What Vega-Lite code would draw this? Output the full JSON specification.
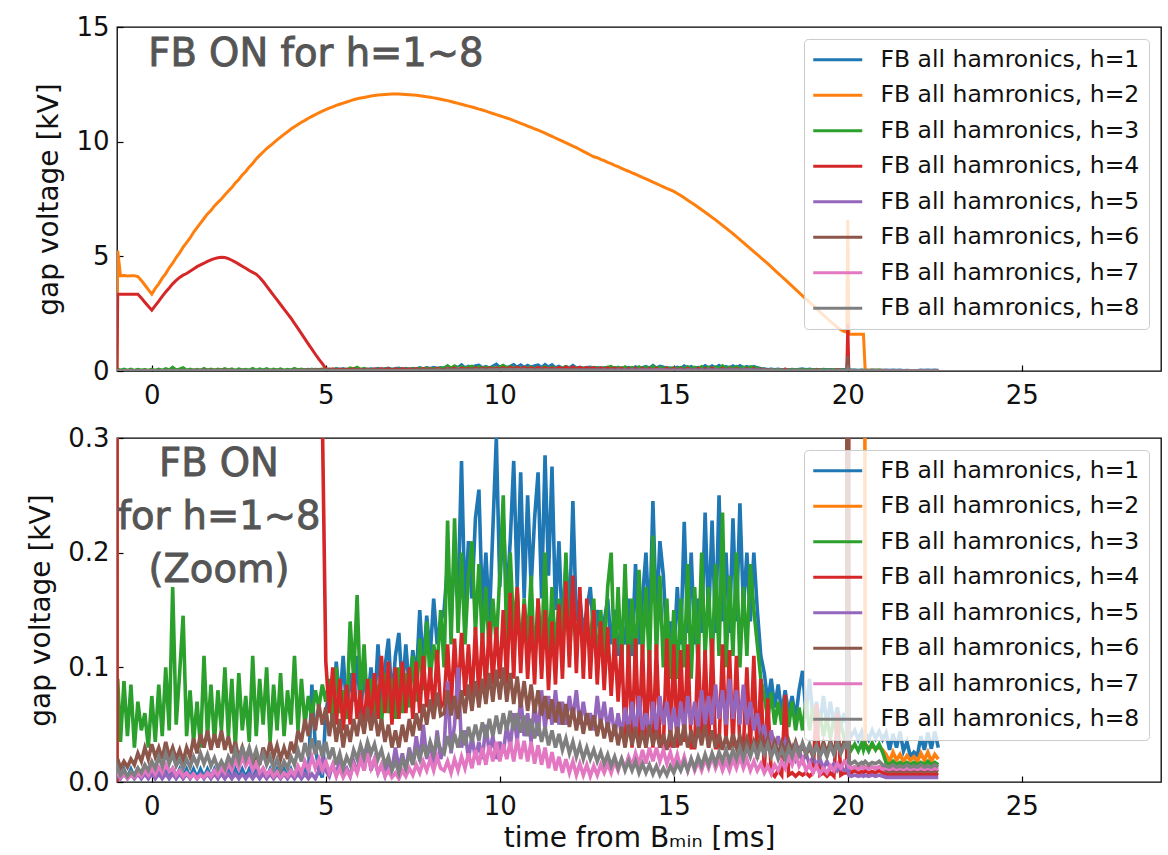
{
  "$schema": "https://vega.github.io/schema/vega-lite/v6.json",
  "autosize": {"type": "pad"},
  "padding": {"left": 27, "top": 13, "right": 5, "bottom": 5},
  "spacing": 15,
  "config": {
    "font": "DejaVu Sans",
    "view": {"stroke": "#000000", "strokeWidth": 1.3},
    "axis": {"domain": false, "grid": false, "tickSize": -6, "tickWidth": 1.2, "tickColor": "#000000", "labelFont": "DejaVu Sans", "labelFontSize": 26, "labelColor": "#111111", "titleFont": "DejaVu Sans", "titleFontSize": 28, "titleFontWeight": "normal", "titleColor": "#111111", "labelFlush": false, "labelOverlap": false},
    "axisX": {"labelPadding": 17, "titlePadding": 5},
    "axisY": {"labelPadding": 14, "titlePadding": 12}
  },
  "datasets": {
    "d": [
      {"t":-1.0,"h1":0.004,"h2":0,"h3":0.06,"h4":0,"h5":0.003,"h6":0.015,"h7":0.005,"h8":0.008},
      {"t":-0.98,"h1":0.011,"h2":5.25,"h3":0.09,"h4":3.35,"h5":0.007,"h6":0.02,"h7":0.008,"h8":0.012},
      {"t":-0.9,"h1":0.004,"h2":4.15,"h3":0.035,"h4":3.35,"h5":0.003,"h6":0.012,"h7":0.004,"h8":0.006},
      {"t":-0.8,"h1":0.011,"h2":4.16,"h3":0.088,"h4":3.35,"h5":0.007,"h6":0.018,"h7":0.007,"h8":0.01},
      {"t":-0.7,"h1":0.004,"h2":4.14,"h3":0.04,"h4":3.35,"h5":0.003,"h6":0.013,"h7":0.003,"h8":0.005},
      {"t":-0.6,"h1":0.011,"h2":4.15,"h3":0.085,"h4":3.35,"h5":0.007,"h6":0.02,"h7":0.006,"h8":0.009},
      {"t":-0.5,"h1":0.004,"h2":4.15,"h3":0.03,"h4":3.35,"h5":0.003,"h6":0.015,"h7":0.004,"h8":0.006},
      {"t":-0.4,"h1":0.011,"h2":4.12,"h3":0.07,"h4":3.35,"h5":0.007,"h6":0.025,"h7":0.008,"h8":0.012},
      {"t":-0.3,"h1":0.004,"h2":3.95,"h3":0.045,"h4":3.18,"h5":0.003,"h6":0.018,"h7":0.005,"h8":0.008},
      {"t":-0.2,"h1":0.011,"h2":3.75,"h3":0.06,"h4":3.0,"h5":0.007,"h6":0.03,"h7":0.01,"h8":0.015},
      {"t":-0.1,"h1":0.004,"h2":3.55,"h3":0.03,"h4":2.82,"h5":0.003,"h6":0.02,"h7":0.006,"h8":0.01},
      {"t":0.0,"h1":0.011,"h2":3.35,"h3":0.075,"h4":2.65,"h5":0.007,"h6":0.033,"h7":0.012,"h8":0.018},
      {"t":0.1,"h1":0.004,"h2":3.6,"h3":0.035,"h4":2.85,"h5":0.003,"h6":0.022,"h7":0.007,"h8":0.012},
      {"t":0.2,"h1":0.011,"h2":3.8,"h3":0.085,"h4":3.05,"h5":0.007,"h6":0.03,"h7":0.013,"h8":0.022},
      {"t":0.3,"h1":0.004,"h2":4.05,"h3":0.04,"h4":3.25,"h5":0.003,"h6":0.02,"h7":0.008,"h8":0.014},
      {"t":0.4,"h1":0.011,"h2":4.25,"h3":0.1,"h4":3.45,"h5":0.007,"h6":0.035,"h7":0.015,"h8":0.025},
      {"t":0.5,"h1":0.004,"h2":4.5,"h3":0.045,"h4":3.62,"h5":0.003,"h6":0.022,"h7":0.009,"h8":0.016},
      {"t":0.6,"h1":0.011,"h2":4.7,"h3":0.17,"h4":3.8,"h5":0.007,"h6":0.03,"h7":0.012,"h8":0.024},
      {"t":0.7,"h1":0.004,"h2":4.95,"h3":0.05,"h4":3.95,"h5":0.003,"h6":0.02,"h7":0.006,"h8":0.014},
      {"t":0.8,"h1":0.011,"h2":5.15,"h3":0.095,"h4":4.08,"h5":0.007,"h6":0.028,"h7":0.01,"h8":0.02},
      {"t":0.9,"h1":0.004,"h2":5.4,"h3":0.145,"h4":4.18,"h5":0.003,"h6":0.018,"h7":0.005,"h8":0.012},
      {"t":1.0,"h1":0.011,"h2":5.6,"h3":0.04,"h4":4.25,"h5":0.007,"h6":0.03,"h7":0.008,"h8":0.02},
      {"t":1.1,"h1":0.004,"h2":5.8,"h3":0.08,"h4":4.35,"h5":0.003,"h6":0.022,"h7":0.004,"h8":0.013},
      {"t":1.2,"h1":0.011,"h2":6.05,"h3":0.035,"h4":4.45,"h5":0.007,"h6":0.038,"h7":0.007,"h8":0.022},
      {"t":1.3,"h1":0.004,"h2":6.25,"h3":0.07,"h4":4.55,"h5":0.003,"h6":0.025,"h7":0.003,"h8":0.015},
      {"t":1.4,"h1":0.011,"h2":6.45,"h3":0.03,"h4":4.63,"h5":0.007,"h6":0.042,"h7":0.006,"h8":0.025},
      {"t":1.5,"h1":0.004,"h2":6.65,"h3":0.11,"h4":4.7,"h5":0.003,"h6":0.03,"h7":0.004,"h8":0.016},
      {"t":1.6,"h1":0.011,"h2":6.85,"h3":0.04,"h4":4.78,"h5":0.007,"h6":0.045,"h7":0.008,"h8":0.024},
      {"t":1.7,"h1":0.004,"h2":7.0,"h3":0.085,"h4":4.85,"h5":0.003,"h6":0.028,"h7":0.005,"h8":0.014},
      {"t":1.8,"h1":0.011,"h2":7.2,"h3":0.035,"h4":4.9,"h5":0.007,"h6":0.042,"h7":0.01,"h8":0.021},
      {"t":1.9,"h1":0.004,"h2":7.35,"h3":0.08,"h4":4.94,"h5":0.003,"h6":0.03,"h7":0.006,"h8":0.012},
      {"t":2.0,"h1":0.011,"h2":7.5,"h3":0.045,"h4":4.96,"h5":0.007,"h6":0.045,"h7":0.012,"h8":0.018},
      {"t":2.1,"h1":0.004,"h2":7.68,"h3":0.1,"h4":4.95,"h5":0.003,"h6":0.028,"h7":0.008,"h8":0.012},
      {"t":2.2,"h1":0.011,"h2":7.85,"h3":0.04,"h4":4.9,"h5":0.007,"h6":0.04,"h7":0.016,"h8":0.022},
      {"t":2.3,"h1":0.004,"h2":8.0,"h3":0.09,"h4":4.83,"h5":0.003,"h6":0.025,"h7":0.01,"h8":0.016},
      {"t":2.4,"h1":0.011,"h2":8.2,"h3":0.03,"h4":4.75,"h5":0.007,"h6":0.035,"h7":0.02,"h8":0.028},
      {"t":2.5,"h1":0.004,"h2":8.35,"h3":0.095,"h4":4.66,"h5":0.003,"h6":0.02,"h7":0.012,"h8":0.018},
      {"t":2.6,"h1":0.011,"h2":8.55,"h3":0.045,"h4":4.57,"h5":0.007,"h6":0.03,"h7":0.022,"h8":0.031},
      {"t":2.7,"h1":0.004,"h2":8.7,"h3":0.075,"h4":4.48,"h5":0.003,"h6":0.018,"h7":0.014,"h8":0.02},
      {"t":2.8,"h1":0.011,"h2":8.9,"h3":0.035,"h4":4.38,"h5":0.007,"h6":0.028,"h7":0.02,"h8":0.03},
      {"t":2.9,"h1":0.004,"h2":9.05,"h3":0.11,"h4":4.3,"h5":0.003,"h6":0.016,"h7":0.01,"h8":0.019},
      {"t":3.0,"h1":0.011,"h2":9.25,"h3":0.04,"h4":4.22,"h5":0.007,"h6":0.025,"h7":0.016,"h8":0.028},
      {"t":3.1,"h1":0.004,"h2":9.4,"h3":0.09,"h4":4.08,"h5":0.003,"h6":0.015,"h7":0.008,"h8":0.017},
      {"t":3.2,"h1":0.011,"h2":9.55,"h3":0.05,"h4":3.9,"h5":0.007,"h6":0.03,"h7":0.012,"h8":0.025},
      {"t":3.3,"h1":0.004,"h2":9.7,"h3":0.1,"h4":3.7,"h5":0.003,"h6":0.02,"h7":0.006,"h8":0.015},
      {"t":3.4,"h1":0.011,"h2":9.82,"h3":0.035,"h4":3.5,"h5":0.007,"h6":0.035,"h7":0.01,"h8":0.022},
      {"t":3.5,"h1":0.004,"h2":9.95,"h3":0.085,"h4":3.3,"h5":0.003,"h6":0.022,"h7":0.005,"h8":0.012},
      {"t":3.6,"h1":0.011,"h2":10.08,"h3":0.045,"h4":3.1,"h5":0.007,"h6":0.032,"h7":0.009,"h8":0.02},
      {"t":3.7,"h1":0.004,"h2":10.2,"h3":0.095,"h4":2.9,"h5":0.003,"h6":0.02,"h7":0.004,"h8":0.01},
      {"t":3.8,"h1":0.011,"h2":10.32,"h3":0.04,"h4":2.7,"h5":0.007,"h6":0.03,"h7":0.008,"h8":0.018},
      {"t":3.9,"h1":0.004,"h2":10.43,"h3":0.08,"h4":2.5,"h5":0.003,"h6":0.02,"h7":0.005,"h8":0.012},
      {"t":4.0,"h1":0.011,"h2":10.55,"h3":0.05,"h4":2.3,"h5":0.007,"h6":0.035,"h7":0.01,"h8":0.022},
      {"t":4.1,"h1":0.004,"h2":10.65,"h3":0.11,"h4":2.08,"h5":0.003,"h6":0.025,"h7":0.006,"h8":0.015},
      {"t":4.2,"h1":0.011,"h2":10.75,"h3":0.045,"h4":1.86,"h5":0.007,"h6":0.045,"h7":0.014,"h8":0.028},
      {"t":4.3,"h1":0.004,"h2":10.85,"h3":0.09,"h4":1.63,"h5":0.003,"h6":0.035,"h7":0.008,"h8":0.018},
      {"t":4.4,"h1":0.011,"h2":10.93,"h3":0.05,"h4":1.4,"h5":0.007,"h6":0.055,"h7":0.018,"h8":0.034},
      {"t":4.5,"h1":0.004,"h2":11.02,"h3":0.075,"h4":1.17,"h5":0.003,"h6":0.04,"h7":0.01,"h8":0.022},
      {"t":4.6,"h1":0.085,"h2":11.1,"h3":0.055,"h4":0.95,"h5":0.007,"h6":0.06,"h7":0.022,"h8":0.038},
      {"t":4.7,"h1":0.03,"h2":11.18,"h3":0.08,"h4":0.73,"h5":0.003,"h6":0.045,"h7":0.012,"h8":0.024},
      {"t":4.8,"h1":0.011,"h2":11.26,"h3":0.065,"h4":0.52,"h5":0.01,"h6":0.068,"h7":0.02,"h8":0.036},
      {"t":4.9,"h1":0.004,"h2":11.33,"h3":0.085,"h4":0.32,"h5":0.02,"h6":0.05,"h7":0.01,"h8":0.022},
      {"t":5.0,"h1":0.06,"h2":11.4,"h3":0.07,"h4":0.105,"h5":0.01,"h6":0.065,"h7":0.018,"h8":0.035},
      {"t":5.1,"h1":0.08,"h2":11.46,"h3":0.09,"h4":0.06,"h5":0.005,"h6":0.04,"h7":0.008,"h8":0.02},
      {"t":5.2,"h1":0.05,"h2":11.52,"h3":0.05,"h4":0.1,"h5":0.015,"h6":0.06,"h7":0.015,"h8":0.03},
      {"t":5.3,"h1":0.105,"h2":11.58,"h3":0.1,"h4":0.05,"h5":0.006,"h6":0.035,"h7":0.005,"h8":0.015},
      {"t":5.4,"h1":0.07,"h2":11.63,"h3":0.06,"h4":0.09,"h5":0.02,"h6":0.055,"h7":0.012,"h8":0.025},
      {"t":5.5,"h1":0.11,"h2":11.68,"h3":0.08,"h4":0.045,"h5":0.008,"h6":0.03,"h7":0.004,"h8":0.012},
      {"t":5.6,"h1":0.06,"h2":11.73,"h3":0.055,"h4":0.085,"h5":0.012,"h6":0.05,"h7":0.01,"h8":0.022},
      {"t":5.7,"h1":0.095,"h2":11.78,"h3":0.14,"h4":0.05,"h5":0.005,"h6":0.035,"h7":0.005,"h8":0.015},
      {"t":5.8,"h1":0.07,"h2":11.83,"h3":0.09,"h4":0.095,"h5":0.018,"h6":0.055,"h7":0.015,"h8":0.028},
      {"t":5.9,"h1":0.11,"h2":11.87,"h3":0.163,"h4":0.055,"h5":0.008,"h6":0.04,"h7":0.008,"h8":0.02},
      {"t":6.0,"h1":0.06,"h2":11.9,"h3":0.07,"h4":0.08,"h5":0.025,"h6":0.06,"h7":0.02,"h8":0.032},
      {"t":6.1,"h1":0.095,"h2":11.93,"h3":0.12,"h4":0.045,"h5":0.01,"h6":0.042,"h7":0.01,"h8":0.022},
      {"t":6.2,"h1":0.07,"h2":11.96,"h3":0.06,"h4":0.09,"h5":0.03,"h6":0.065,"h7":0.025,"h8":0.035},
      {"t":6.3,"h1":0.1,"h2":11.99,"h3":0.09,"h4":0.05,"h5":0.01,"h6":0.045,"h7":0.012,"h8":0.025},
      {"t":6.4,"h1":0.065,"h2":12.01,"h3":0.06,"h4":0.095,"h5":0.02,"h6":0.062,"h7":0.02,"h8":0.033},
      {"t":6.5,"h1":0.12,"h2":12.03,"h3":0.085,"h4":0.055,"h5":0.008,"h6":0.04,"h7":0.008,"h8":0.02},
      {"t":6.6,"h1":0.07,"h2":12.05,"h3":0.05,"h4":0.11,"h5":0.015,"h6":0.055,"h7":0.015,"h8":0.028},
      {"t":6.7,"h1":0.1,"h2":12.06,"h3":0.095,"h4":0.06,"h5":0.006,"h6":0.035,"h7":0.005,"h8":0.015},
      {"t":6.8,"h1":0.125,"h2":12.07,"h3":0.06,"h4":0.105,"h5":0.02,"h6":0.05,"h7":0.01,"h8":0.022},
      {"t":6.9,"h1":0.07,"h2":12.08,"h3":0.09,"h4":0.05,"h5":0.01,"h6":0.03,"h7":0.004,"h8":0.01},
      {"t":7.0,"h1":0.11,"h2":12.08,"h3":0.055,"h4":0.1,"h5":0.03,"h6":0.045,"h7":0.008,"h8":0.018},
      {"t":7.1,"h1":0.13,"h2":12.08,"h3":0.1,"h4":0.055,"h5":0.012,"h6":0.03,"h7":0.003,"h8":0.008},
      {"t":7.2,"h1":0.08,"h2":12.07,"h3":0.06,"h4":0.105,"h5":0.025,"h6":0.05,"h7":0.01,"h8":0.02},
      {"t":7.3,"h1":0.12,"h2":12.06,"h3":0.095,"h4":0.06,"h5":0.01,"h6":0.035,"h7":0.005,"h8":0.012},
      {"t":7.4,"h1":0.08,"h2":12.05,"h3":0.065,"h4":0.1,"h5":0.03,"h6":0.055,"h7":0.012,"h8":0.025},
      {"t":7.5,"h1":0.115,"h2":12.04,"h3":0.11,"h4":0.055,"h5":0.015,"h6":0.04,"h7":0.006,"h8":0.015},
      {"t":7.6,"h1":0.09,"h2":12.02,"h3":0.07,"h4":0.105,"h5":0.04,"h6":0.06,"h7":0.015,"h8":0.03},
      {"t":7.7,"h1":0.15,"h2":12.0,"h3":0.125,"h4":0.06,"h5":0.018,"h6":0.045,"h7":0.008,"h8":0.02},
      {"t":7.8,"h1":0.1,"h2":11.98,"h3":0.08,"h4":0.11,"h5":0.05,"h6":0.068,"h7":0.018,"h8":0.033},
      {"t":7.9,"h1":0.145,"h2":11.96,"h3":0.14,"h4":0.065,"h5":0.02,"h6":0.05,"h7":0.01,"h8":0.022},
      {"t":8.0,"h1":0.11,"h2":11.94,"h3":0.09,"h4":0.1,"h5":0.035,"h6":0.072,"h7":0.02,"h8":0.035},
      {"t":8.1,"h1":0.16,"h2":11.91,"h3":0.12,"h4":0.06,"h5":0.015,"h6":0.055,"h7":0.01,"h8":0.025},
      {"t":8.2,"h1":0.12,"h2":11.88,"h3":0.1,"h4":0.115,"h5":0.045,"h6":0.078,"h7":0.022,"h8":0.038},
      {"t":8.3,"h1":0.14,"h2":11.85,"h3":0.15,"h4":0.065,"h5":0.02,"h6":0.058,"h7":0.012,"h8":0.028},
      {"t":8.4,"h1":0.15,"h2":11.82,"h3":0.1,"h4":0.07,"h5":0.03,"h6":0.06,"h7":0.01,"h8":0.025},
      {"t":8.5,"h1":0.19,"h2":11.79,"h3":0.228,"h4":0.12,"h5":0.088,"h6":0.08,"h7":0.018,"h8":0.04},
      {"t":8.6,"h1":0.14,"h2":11.75,"h3":0.12,"h4":0.065,"h5":0.025,"h6":0.058,"h7":0.008,"h8":0.028},
      {"t":8.7,"h1":0.2,"h2":11.71,"h3":0.23,"h4":0.125,"h5":0.05,"h6":0.075,"h7":0.02,"h8":0.042},
      {"t":8.8,"h1":0.16,"h2":11.67,"h3":0.13,"h4":0.07,"h5":0.1,"h6":0.055,"h7":0.01,"h8":0.03},
      {"t":8.9,"h1":0.28,"h2":11.63,"h3":0.2,"h4":0.13,"h5":0.03,"h6":0.08,"h7":0.022,"h8":0.045},
      {"t":9.0,"h1":0.15,"h2":11.59,"h3":0.12,"h4":0.075,"h5":0.045,"h6":0.06,"h7":0.012,"h8":0.032},
      {"t":9.1,"h1":0.21,"h2":11.55,"h3":0.18,"h4":0.12,"h5":0.02,"h6":0.085,"h7":0.025,"h8":0.048},
      {"t":9.2,"h1":0.16,"h2":11.51,"h3":0.21,"h4":0.07,"h5":0.04,"h6":0.062,"h7":0.012,"h8":0.035},
      {"t":9.3,"h1":0.23,"h2":11.47,"h3":0.13,"h4":0.135,"h5":0.02,"h6":0.088,"h7":0.028,"h8":0.05},
      {"t":9.4,"h1":0.255,"h2":11.42,"h3":0.19,"h4":0.075,"h5":0.035,"h6":0.065,"h7":0.015,"h8":0.036},
      {"t":9.5,"h1":0.15,"h2":11.38,"h3":0.12,"h4":0.13,"h5":0.02,"h6":0.09,"h7":0.03,"h8":0.052},
      {"t":9.6,"h1":0.2,"h2":11.33,"h3":0.17,"h4":0.08,"h5":0.05,"h6":0.068,"h7":0.015,"h8":0.038},
      {"t":9.7,"h1":0.14,"h2":11.28,"h3":0.11,"h4":0.14,"h5":0.025,"h6":0.095,"h7":0.032,"h8":0.055},
      {"t":9.8,"h1":0.22,"h2":11.23,"h3":0.16,"h4":0.085,"h5":0.04,"h6":0.07,"h7":0.018,"h8":0.04},
      {"t":9.9,"h1":0.3,"h2":11.18,"h3":0.12,"h4":0.135,"h5":0.02,"h6":0.098,"h7":0.035,"h8":0.058},
      {"t":10.0,"h1":0.17,"h2":11.13,"h3":0.18,"h4":0.09,"h5":0.035,"h6":0.072,"h7":0.018,"h8":0.042},
      {"t":10.1,"h1":0.23,"h2":11.08,"h3":0.25,"h4":0.15,"h5":0.025,"h6":0.1,"h7":0.033,"h8":0.06},
      {"t":10.2,"h1":0.16,"h2":11.03,"h3":0.12,"h4":0.085,"h5":0.05,"h6":0.07,"h7":0.02,"h8":0.045},
      {"t":10.3,"h1":0.21,"h2":10.98,"h3":0.2,"h4":0.165,"h5":0.03,"h6":0.095,"h7":0.035,"h8":0.062},
      {"t":10.4,"h1":0.28,"h2":10.92,"h3":0.13,"h4":0.09,"h5":0.06,"h6":0.068,"h7":0.018,"h8":0.045},
      {"t":10.5,"h1":0.17,"h2":10.86,"h3":0.17,"h4":0.17,"h5":0.035,"h6":0.092,"h7":0.038,"h8":0.06},
      {"t":10.6,"h1":0.27,"h2":10.8,"h3":0.11,"h4":0.095,"h5":0.075,"h6":0.065,"h7":0.02,"h8":0.043},
      {"t":10.7,"h1":0.16,"h2":10.74,"h3":0.16,"h4":0.155,"h5":0.04,"h6":0.088,"h7":0.036,"h8":0.058},
      {"t":10.8,"h1":0.25,"h2":10.68,"h3":0.12,"h4":0.09,"h5":0.06,"h6":0.062,"h7":0.018,"h8":0.04},
      {"t":10.9,"h1":0.17,"h2":10.62,"h3":0.18,"h4":0.145,"h5":0.035,"h6":0.085,"h7":0.035,"h8":0.055},
      {"t":11.0,"h1":0.23,"h2":10.56,"h3":0.1,"h4":0.085,"h5":0.07,"h6":0.06,"h7":0.016,"h8":0.038},
      {"t":11.1,"h1":0.27,"h2":10.5,"h3":0.16,"h4":0.16,"h5":0.04,"h6":0.08,"h7":0.032,"h8":0.052},
      {"t":11.2,"h1":0.16,"h2":10.44,"h3":0.11,"h4":0.09,"h5":0.08,"h6":0.058,"h7":0.015,"h8":0.035},
      {"t":11.3,"h1":0.285,"h2":10.37,"h3":0.2,"h4":0.15,"h5":0.045,"h6":0.075,"h7":0.03,"h8":0.048},
      {"t":11.4,"h1":0.18,"h2":10.3,"h3":0.1,"h4":0.08,"h5":0.075,"h6":0.055,"h7":0.012,"h8":0.032},
      {"t":11.5,"h1":0.275,"h2":10.23,"h3":0.17,"h4":0.14,"h5":0.05,"h6":0.072,"h7":0.026,"h8":0.045},
      {"t":11.6,"h1":0.15,"h2":10.16,"h3":0.11,"h4":0.085,"h5":0.08,"h6":0.052,"h7":0.01,"h8":0.03},
      {"t":11.7,"h1":0.21,"h2":10.09,"h3":0.16,"h4":0.155,"h5":0.05,"h6":0.07,"h7":0.022,"h8":0.042},
      {"t":11.8,"h1":0.13,"h2":10.02,"h3":0.12,"h4":0.09,"h5":0.07,"h6":0.05,"h7":0.008,"h8":0.028},
      {"t":11.9,"h1":0.19,"h2":9.95,"h3":0.2,"h4":0.175,"h5":0.05,"h6":0.068,"h7":0.02,"h8":0.038},
      {"t":12.0,"h1":0.14,"h2":9.88,"h3":0.11,"h4":0.1,"h5":0.075,"h6":0.048,"h7":0.008,"h8":0.025},
      {"t":12.1,"h1":0.245,"h2":9.81,"h3":0.16,"h4":0.18,"h5":0.055,"h6":0.065,"h7":0.018,"h8":0.035},
      {"t":12.2,"h1":0.14,"h2":9.74,"h3":0.12,"h4":0.095,"h5":0.08,"h6":0.045,"h7":0.006,"h8":0.022},
      {"t":12.3,"h1":0.16,"h2":9.66,"h3":0.15,"h4":0.17,"h5":0.05,"h6":0.062,"h7":0.016,"h8":0.032},
      {"t":12.4,"h1":0.13,"h2":9.58,"h3":0.11,"h4":0.09,"h5":0.07,"h6":0.042,"h7":0.006,"h8":0.02},
      {"t":12.5,"h1":0.15,"h2":9.5,"h3":0.14,"h4":0.16,"h5":0.05,"h6":0.06,"h7":0.015,"h8":0.03},
      {"t":12.6,"h1":0.17,"h2":9.42,"h3":0.12,"h4":0.09,"h5":0.06,"h6":0.045,"h7":0.005,"h8":0.02},
      {"t":12.7,"h1":0.13,"h2":9.34,"h3":0.16,"h4":0.15,"h5":0.045,"h6":0.058,"h7":0.014,"h8":0.028},
      {"t":12.8,"h1":0.15,"h2":9.3,"h3":0.1,"h4":0.085,"h5":0.075,"h6":0.04,"h7":0.006,"h8":0.018},
      {"t":12.9,"h1":0.12,"h2":9.23,"h3":0.15,"h4":0.14,"h5":0.05,"h6":0.055,"h7":0.015,"h8":0.026},
      {"t":13.0,"h1":0.14,"h2":9.17,"h3":0.11,"h4":0.08,"h5":0.07,"h6":0.038,"h7":0.008,"h8":0.016},
      {"t":13.1,"h1":0.16,"h2":9.1,"h3":0.17,"h4":0.135,"h5":0.045,"h6":0.052,"h7":0.016,"h8":0.024},
      {"t":13.2,"h1":0.12,"h2":9.04,"h3":0.2,"h4":0.075,"h5":0.065,"h6":0.035,"h7":0.008,"h8":0.014},
      {"t":13.3,"h1":0.15,"h2":8.97,"h3":0.1,"h4":0.125,"h5":0.04,"h6":0.05,"h7":0.018,"h8":0.022},
      {"t":13.4,"h1":0.11,"h2":8.91,"h3":0.17,"h4":0.07,"h5":0.06,"h6":0.032,"h7":0.01,"h8":0.012},
      {"t":13.5,"h1":0.14,"h2":8.84,"h3":0.1,"h4":0.12,"h5":0.04,"h6":0.048,"h7":0.02,"h8":0.02},
      {"t":13.6,"h1":0.12,"h2":8.77,"h3":0.19,"h4":0.035,"h5":0.065,"h6":0.03,"h7":0.012,"h8":0.01},
      {"t":13.7,"h1":0.16,"h2":8.71,"h3":0.1,"h4":0.12,"h5":0.045,"h6":0.05,"h7":0.022,"h8":0.018},
      {"t":13.8,"h1":0.11,"h2":8.64,"h3":0.16,"h4":0.03,"h5":0.07,"h6":0.032,"h7":0.014,"h8":0.01},
      {"t":13.9,"h1":0.19,"h2":8.58,"h3":0.1,"h4":0.125,"h5":0.04,"h6":0.048,"h7":0.025,"h8":0.018},
      {"t":14.0,"h1":0.12,"h2":8.51,"h3":0.185,"h4":0.035,"h5":0.075,"h6":0.03,"h7":0.015,"h8":0.008},
      {"t":14.1,"h1":0.16,"h2":8.44,"h3":0.11,"h4":0.12,"h5":0.045,"h6":0.045,"h7":0.028,"h8":0.016},
      {"t":14.2,"h1":0.2,"h2":8.38,"h3":0.17,"h4":0.03,"h5":0.06,"h6":0.03,"h7":0.016,"h8":0.008},
      {"t":14.3,"h1":0.13,"h2":8.31,"h3":0.1,"h4":0.115,"h5":0.04,"h6":0.05,"h7":0.03,"h8":0.015},
      {"t":14.4,"h1":0.245,"h2":8.24,"h3":0.215,"h4":0.03,"h5":0.07,"h6":0.032,"h7":0.018,"h8":0.007},
      {"t":14.5,"h1":0.14,"h2":8.17,"h3":0.11,"h4":0.12,"h5":0.045,"h6":0.045,"h7":0.03,"h8":0.014},
      {"t":14.6,"h1":0.21,"h2":8.1,"h3":0.18,"h4":0.035,"h5":0.075,"h6":0.03,"h7":0.018,"h8":0.006},
      {"t":14.7,"h1":0.18,"h2":8.03,"h3":0.1,"h4":0.03,"h5":0.05,"h6":0.042,"h7":0.028,"h8":0.012},
      {"t":14.8,"h1":0.12,"h2":7.96,"h3":0.16,"h4":0.125,"h5":0.07,"h6":0.028,"h7":0.016,"h8":0.006},
      {"t":14.9,"h1":0.14,"h2":7.9,"h3":0.09,"h4":0.03,"h5":0.045,"h6":0.045,"h7":0.026,"h8":0.014},
      {"t":15.0,"h1":0.11,"h2":7.83,"h3":0.15,"h4":0.12,"h5":0.065,"h6":0.03,"h7":0.014,"h8":0.008},
      {"t":15.1,"h1":0.17,"h2":7.74,"h3":0.09,"h4":0.03,"h5":0.04,"h6":0.048,"h7":0.024,"h8":0.016},
      {"t":15.2,"h1":0.12,"h2":7.65,"h3":0.16,"h4":0.115,"h5":0.07,"h6":0.032,"h7":0.012,"h8":0.01},
      {"t":15.3,"h1":0.227,"h2":7.55,"h3":0.1,"h4":0.035,"h5":0.045,"h6":0.05,"h7":0.022,"h8":0.018},
      {"t":15.4,"h1":0.13,"h2":7.45,"h3":0.19,"h4":0.12,"h5":0.075,"h6":0.03,"h7":0.01,"h8":0.01},
      {"t":15.5,"h1":0.2,"h2":7.35,"h3":0.09,"h4":0.03,"h5":0.05,"h6":0.045,"h7":0.02,"h8":0.02},
      {"t":15.6,"h1":0.12,"h2":7.25,"h3":0.17,"h4":0.03,"h5":0.07,"h6":0.03,"h7":0.01,"h8":0.012},
      {"t":15.7,"h1":0.16,"h2":7.14,"h3":0.1,"h4":0.12,"h5":0.045,"h6":0.048,"h7":0.018,"h8":0.022},
      {"t":15.8,"h1":0.13,"h2":7.03,"h3":0.2,"h4":0.035,"h5":0.08,"h6":0.032,"h7":0.01,"h8":0.014},
      {"t":15.9,"h1":0.235,"h2":6.92,"h3":0.11,"h4":0.115,"h5":0.05,"h6":0.05,"h7":0.02,"h8":0.024},
      {"t":16.0,"h1":0.14,"h2":6.81,"h3":0.17,"h4":0.03,"h5":0.075,"h6":0.03,"h7":0.012,"h8":0.015},
      {"t":16.1,"h1":0.228,"h2":6.7,"h3":0.1,"h4":0.125,"h5":0.05,"h6":0.045,"h7":0.022,"h8":0.025},
      {"t":16.2,"h1":0.13,"h2":6.59,"h3":0.19,"h4":0.03,"h5":0.085,"h6":0.03,"h7":0.012,"h8":0.016},
      {"t":16.3,"h1":0.25,"h2":6.47,"h3":0.11,"h4":0.03,"h5":0.055,"h6":0.042,"h7":0.02,"h8":0.026},
      {"t":16.4,"h1":0.14,"h2":6.35,"h3":0.235,"h4":0.12,"h5":0.08,"h6":0.028,"h7":0.01,"h8":0.018},
      {"t":16.5,"h1":0.2,"h2":6.23,"h3":0.1,"h4":0.035,"h5":0.05,"h6":0.04,"h7":0.018,"h8":0.028},
      {"t":16.6,"h1":0.13,"h2":6.11,"h3":0.18,"h4":0.115,"h5":0.09,"h6":0.028,"h7":0.01,"h8":0.018},
      {"t":16.7,"h1":0.23,"h2":5.99,"h3":0.11,"h4":0.03,"h5":0.055,"h6":0.042,"h7":0.02,"h8":0.028},
      {"t":16.8,"h1":0.14,"h2":5.86,"h3":0.2,"h4":0.11,"h5":0.08,"h6":0.03,"h7":0.012,"h8":0.02},
      {"t":16.9,"h1":0.243,"h2":5.73,"h3":0.1,"h4":0.03,"h5":0.05,"h6":0.04,"h7":0.022,"h8":0.03},
      {"t":17.0,"h1":0.15,"h2":5.6,"h3":0.17,"h4":0.03,"h5":0.085,"h6":0.028,"h7":0.012,"h8":0.02},
      {"t":17.1,"h1":0.2,"h2":5.47,"h3":0.11,"h4":0.1,"h5":0.05,"h6":0.038,"h7":0.02,"h8":0.03},
      {"t":17.2,"h1":0.14,"h2":5.34,"h3":0.19,"h4":0.03,"h5":0.07,"h6":0.026,"h7":0.01,"h8":0.022},
      {"t":17.3,"h1":0.2,"h2":5.21,"h3":0.15,"h4":0.11,"h5":0.045,"h6":0.036,"h7":0.018,"h8":0.032},
      {"t":17.4,"h1":0.15,"h2":5.08,"h3":0.12,"h4":0.02,"h5":0.06,"h6":0.03,"h7":0.01,"h8":0.022},
      {"t":17.5,"h1":0.11,"h2":4.94,"h3":0.09,"h4":0.09,"h5":0.04,"h6":0.04,"h7":0.016,"h8":0.032},
      {"t":17.6,"h1":0.095,"h2":4.81,"h3":0.075,"h4":0.01,"h5":0.05,"h6":0.028,"h7":0.008,"h8":0.024},
      {"t":17.7,"h1":0.07,"h2":4.68,"h3":0.055,"h4":0.073,"h5":0.03,"h6":0.038,"h7":0.014,"h8":0.033},
      {"t":17.8,"h1":0.09,"h2":4.54,"h3":0.078,"h4":0.008,"h5":0.045,"h6":0.025,"h7":0.007,"h8":0.022},
      {"t":17.9,"h1":0.065,"h2":4.4,"h3":0.05,"h4":0.005,"h5":0.028,"h6":0.035,"h7":0.015,"h8":0.03},
      {"t":18.0,"h1":0.085,"h2":4.26,"h3":0.07,"h4":0.01,"h5":0.04,"h6":0.024,"h7":0.01,"h8":0.02},
      {"t":18.1,"h1":0.06,"h2":4.12,"h3":0.05,"h4":0.006,"h5":0.025,"h6":0.034,"h7":0.018,"h8":0.028},
      {"t":18.2,"h1":0.08,"h2":3.98,"h3":0.075,"h4":0.076,"h5":0.035,"h6":0.025,"h7":0.012,"h8":0.02},
      {"t":18.3,"h1":0.06,"h2":3.84,"h3":0.048,"h4":0.006,"h5":0.022,"h6":0.036,"h7":0.022,"h8":0.03},
      {"t":18.4,"h1":0.075,"h2":3.7,"h3":0.07,"h4":0.008,"h5":0.03,"h6":0.026,"h7":0.015,"h8":0.022},
      {"t":18.5,"h1":0.055,"h2":3.56,"h3":0.045,"h4":0.005,"h5":0.02,"h6":0.035,"h7":0.024,"h8":0.032},
      {"t":18.6,"h1":0.08,"h2":3.42,"h3":0.065,"h4":0.008,"h5":0.028,"h6":0.025,"h7":0.014,"h8":0.024},
      {"t":18.7,"h1":0.097,"h2":3.28,"h3":0.045,"h4":0.006,"h5":0.018,"h6":0.032,"h7":0.02,"h8":0.034},
      {"t":18.8,"h1":0.06,"h2":3.14,"h3":0.07,"h4":0.008,"h5":0.025,"h6":0.024,"h7":0.01,"h8":0.025},
      {"t":18.9,"h1":0.09,"h2":3.0,"h3":0.045,"h4":0.005,"h5":0.015,"h6":0.03,"h7":0.016,"h8":0.033},
      {"t":19.0,"h1":0.055,"h2":2.86,"h3":0.065,"h4":0.008,"h5":0.022,"h6":0.022,"h7":0.008,"h8":0.024},
      {"t":19.1,"h1":0.07,"h2":2.72,"h3":0.04,"h4":0.068,"h5":0.015,"h6":0.032,"h7":0.014,"h8":0.032},
      {"t":19.2,"h1":0.05,"h2":2.58,"h3":0.06,"h4":0.006,"h5":0.02,"h6":0.025,"h7":0.007,"h8":0.022},
      {"t":19.3,"h1":0.075,"h2":2.44,"h3":0.04,"h4":0.008,"h5":0.012,"h6":0.035,"h7":0.012,"h8":0.03},
      {"t":19.4,"h1":0.05,"h2":2.3,"h3":0.055,"h4":0.005,"h5":0.018,"h6":0.025,"h7":0.008,"h8":0.022},
      {"t":19.5,"h1":0.07,"h2":2.16,"h3":0.038,"h4":0.008,"h5":0.012,"h6":0.036,"h7":0.014,"h8":0.032},
      {"t":19.6,"h1":0.05,"h2":2.03,"h3":0.055,"h4":0.005,"h5":0.016,"h6":0.026,"h7":0.01,"h8":0.024},
      {"t":19.7,"h1":0.065,"h2":1.9,"h3":0.04,"h4":0.06,"h5":0.01,"h6":0.038,"h7":0.016,"h8":0.034},
      {"t":19.8,"h1":0.05,"h2":1.8,"h3":0.05,"h4":0.006,"h5":0.014,"h6":0.028,"h7":0.012,"h8":0.025},
      {"t":19.9,"h1":0.06,"h2":1.72,"h3":0.038,"h4":0.008,"h5":0.01,"h6":0.036,"h7":0.018,"h8":0.032},
      {"t":19.97,"h1":0.05,"h2":1.7,"h3":0.038,"h4":0.008,"h5":0.01,"h6":0.03,"h7":0.016,"h8":0.03},
      {"t":20.0,"h1":0.09,"h2":6.6,"h3":0.05,"h4":2.05,"h5":0.02,"h6":0.66,"h7":0.02,"h8":0.12},
      {"t":20.03,"h1":0.045,"h2":1.6,"h3":0.034,"h4":0.01,"h5":0.006,"h6":0.014,"h7":0.013,"h8":0.017},
      {"t":20.1,"h1":0.04,"h2":1.6,"h3":0.028,"h4":0.008,"h5":0.005,"h6":0.012,"h7":0.012,"h8":0.016},
      {"t":20.2,"h1":0.045,"h2":1.6,"h3":0.033,"h4":0.01,"h5":0.006,"h6":0.013,"h7":0.013,"h8":0.018},
      {"t":20.3,"h1":0.037,"h2":1.6,"h3":0.027,"h4":0.008,"h5":0.005,"h6":0.012,"h7":0.011,"h8":0.015},
      {"t":20.4,"h1":0.044,"h2":1.6,"h3":0.034,"h4":0.009,"h5":0.006,"h6":0.013,"h7":0.013,"h8":0.017},
      {"t":20.45,"h1":0.038,"h2":1.6,"h3":0.028,"h4":0.008,"h5":0.005,"h6":0.012,"h7":0.012,"h8":0.016},
      {"t":20.5,"h1":0.043,"h2":0.033,"h3":0.033,"h4":0.01,"h5":0.006,"h6":0.013,"h7":0.013,"h8":0.018},
      {"t":20.6,"h1":0.037,"h2":0.03,"h3":0.027,"h4":0.008,"h5":0.005,"h6":0.012,"h7":0.011,"h8":0.015},
      {"t":20.7,"h1":0.045,"h2":0.031,"h3":0.034,"h4":0.009,"h5":0.006,"h6":0.013,"h7":0.013,"h8":0.017},
      {"t":20.8,"h1":0.038,"h2":0.029,"h3":0.028,"h4":0.008,"h5":0.005,"h6":0.012,"h7":0.012,"h8":0.016},
      {"t":20.9,"h1":0.044,"h2":0.03,"h3":0.033,"h4":0.01,"h5":0.006,"h6":0.013,"h7":0.013,"h8":0.018},
      {"t":21.0,"h1":0.037,"h2":0.028,"h3":0.026,"h4":0.008,"h5":0.005,"h6":0.012,"h7":0.011,"h8":0.015},
      {"t":21.1,"h1":0.043,"h2":0.024,"h3":0.017,"h4":0.007,"h5":0.004,"h6":0.01,"h7":0.012,"h8":0.014},
      {"t":21.2,"h1":0.028,"h2":0.018,"h3":0.015,"h4":0.006,"h5":0.004,"h6":0.009,"h7":0.011,"h8":0.013},
      {"t":21.3,"h1":0.042,"h2":0.026,"h3":0.018,"h4":0.007,"h5":0.004,"h6":0.01,"h7":0.012,"h8":0.015},
      {"t":21.4,"h1":0.03,"h2":0.019,"h3":0.015,"h4":0.006,"h5":0.004,"h6":0.009,"h7":0.011,"h8":0.013},
      {"t":21.5,"h1":0.044,"h2":0.024,"h3":0.017,"h4":0.007,"h5":0.004,"h6":0.01,"h7":0.012,"h8":0.014},
      {"t":21.6,"h1":0.027,"h2":0.018,"h3":0.015,"h4":0.006,"h5":0.004,"h6":0.009,"h7":0.011,"h8":0.013},
      {"t":21.7,"h1":0.035,"h2":0.023,"h3":0.017,"h4":0.007,"h5":0.004,"h6":0.01,"h7":0.012,"h8":0.015},
      {"t":21.8,"h1":0.022,"h2":0.019,"h3":0.015,"h4":0.006,"h5":0.004,"h6":0.009,"h7":0.011,"h8":0.013},
      {"t":21.9,"h1":0.026,"h2":0.022,"h3":0.017,"h4":0.007,"h5":0.004,"h6":0.01,"h7":0.012,"h8":0.014},
      {"t":22.0,"h1":0.023,"h2":0.018,"h3":0.015,"h4":0.006,"h5":0.004,"h6":0.009,"h7":0.011,"h8":0.013},
      {"t":22.1,"h1":0.04,"h2":0.025,"h3":0.017,"h4":0.007,"h5":0.004,"h6":0.01,"h7":0.012,"h8":0.015},
      {"t":22.2,"h1":0.028,"h2":0.019,"h3":0.015,"h4":0.006,"h5":0.004,"h6":0.009,"h7":0.011,"h8":0.013},
      {"t":22.3,"h1":0.043,"h2":0.026,"h3":0.018,"h4":0.007,"h5":0.004,"h6":0.01,"h7":0.012,"h8":0.014},
      {"t":22.4,"h1":0.029,"h2":0.018,"h3":0.015,"h4":0.006,"h5":0.004,"h6":0.009,"h7":0.011,"h8":0.013},
      {"t":22.5,"h1":0.044,"h2":0.024,"h3":0.017,"h4":0.007,"h5":0.004,"h6":0.01,"h7":0.012,"h8":0.015},
      {"t":22.6,"h1":0.03,"h2":0.02,"h3":0.015,"h4":0.006,"h5":0.004,"h6":0.009,"h7":0.011,"h8":0.013}
    ]
  },
  "vconcat": [
    {
      "width": 1044,
      "height": 344,
      "layer": [
        {
          "data": {"name": "d"},
          "transform": [{"fold": ["h1","h2","h3","h4","h5","h6","h7","h8"], "as": ["s","v"]}],
          "mark": {"type": "line", "strokeWidth": 3.0, "clip": true},
          "encoding": {
            "x": {"field": "t", "type": "quantitative", "scale": {"domain": [-1, 29], "nice": false, "zero": false}, "axis": {"values": [0,5,10,15,20,25], "format": "d", "title": null}},
            "y": {"field": "v", "type": "quantitative", "scale": {"domain": [0, 15], "nice": false}, "axis": {"values": [0,5,10,15], "format": "d"}, "title": "gap voltage [kV]"},
            "color": {
              "field": "s", "type": "nominal",
              "scale": {"domain": ["h1","h2","h3","h4","h5","h6","h7","h8"], "range": ["#1f77b4","#ff7f0e","#2ca02c","#d62728","#9467bd","#8c564b","#e377c2","#7f7f7f"]},
              "legend": {"orient": "top-right", "offset": 12, "title": null, "fillColor": "rgba(255,255,255,0.8)", "strokeColor": "#cccccc", "cornerRadius": 4, "padding": 9, "symbolType": "M-2.45,0H2.45", "symbolSize": 400, "symbolStrokeWidth": 3, "symbolOffset": 13, "labelFont": "DejaVu Sans", "labelFontSize": 23.5, "labelColor": "#111111", "labelOffset": 31, "rowPadding": 10.5, "labelLimit": 400, "labelExpr": "'FB all hamronics, h=' + replace(datum.label, 'h', '')"}
            }
          }
        },
        {
          "data": {"values": [{}]},
          "mark": {"type": "text", "text": "FB ON for h=1~8", "align": "left", "baseline": "alphabetic", "font": "DejaVu Sans", "fontSize": 38.5, "color": "#555555", "stroke": "#555555", "strokeWidth": 0.9},
          "encoding": {"x": {"datum": -0.1}, "y": {"datum": 13.29}}
        }
      ]
    },
    {
      "width": 1044,
      "height": 344,
      "layer": [
        {
          "data": {"name": "d"},
          "transform": [{"fold": ["h1","h2","h3","h4","h5","h6","h7","h8"], "as": ["s","v"]}],
          "mark": {"type": "line", "strokeWidth": 3.6, "clip": true},
          "encoding": {
            "x": {"field": "t", "type": "quantitative", "scale": {"domain": [-1, 29], "nice": false, "zero": false}, "axis": {"values": [0,5,10,15,20,25], "format": "d"}, "title": "time from Bₘᵢₙ [ms]"},
            "y": {"field": "v", "type": "quantitative", "scale": {"domain": [0, 0.3], "nice": false}, "axis": {"values": [0,0.1,0.2,0.3], "format": ".1f"}, "title": "gap voltage [kV]"},
            "color": {
              "field": "s", "type": "nominal",
              "scale": {"domain": ["h1","h2","h3","h4","h5","h6","h7","h8"], "range": ["#1f77b4","#ff7f0e","#2ca02c","#d62728","#9467bd","#8c564b","#e377c2","#7f7f7f"]},
              "legend": {"orient": "top-right", "offset": 12, "title": null, "fillColor": "rgba(255,255,255,0.8)", "strokeColor": "#cccccc", "cornerRadius": 4, "padding": 9, "symbolType": "M-2.45,0H2.45", "symbolSize": 400, "symbolStrokeWidth": 3, "symbolOffset": 13, "labelFont": "DejaVu Sans", "labelFontSize": 23.5, "labelColor": "#111111", "labelOffset": 31, "rowPadding": 10.5, "labelLimit": 400, "labelExpr": "'FB all hamronics, h=' + replace(datum.label, 'h', '')"}
            }
          }
        },
        {
          "data": {"values": [{}]},
          "mark": {"type": "text", "text": ["FB ON", "for h=1~8", "(Zoom)"], "align": "center", "baseline": "alphabetic", "lineHeight": 53, "font": "DejaVu Sans", "fontSize": 38.5, "color": "#555555", "stroke": "#555555", "strokeWidth": 0.9},
          "encoding": {"x": {"datum": 1.93}, "y": {"datum": 0.267}}
        }
      ]
    }
  ],
  "resolve": {"legend": {"color": "independent"}}
}
